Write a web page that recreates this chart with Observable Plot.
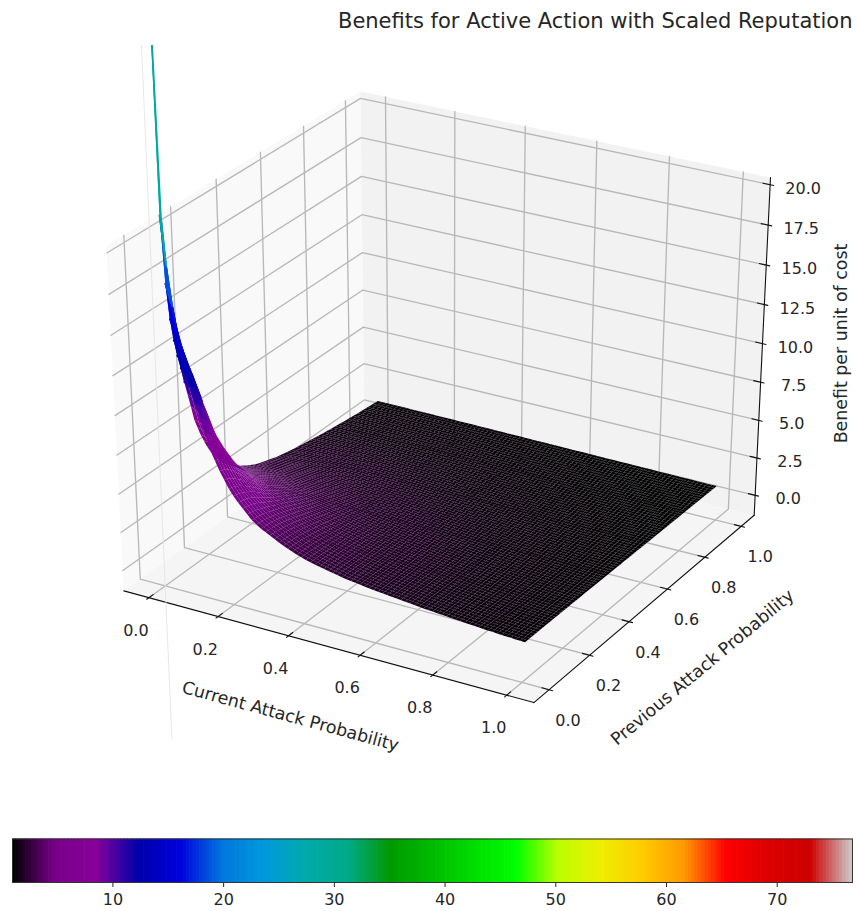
<!DOCTYPE html>
<html>
<head>
<meta charset="utf-8">
<script src="https://cdn.jsdelivr.net/npm/d3@7"></script>
<script src="https://cdn.jsdelivr.net/npm/@observablehq/plot@0.6"></script>
<style>
html,body{margin:0;padding:0;background:#fff}
svg{display:block;background:#fff}
</style>
</head>
<body>
<div id="chart"></div>
<script>
const chartTitle = "Benefits for Active Action with Scaled Reputation";
const xLabel = "Current Attack Probability";
const yLabel = "Previous Attack Probability";
const zLabel = "Benefit per unit of cost";
const probabilityTicks = [0, 0.2, 0.4, 0.6, 0.8, 1];
const benefitTicks = [0, 2.5, 5, 7.5, 10, 12.5, 15, 17.5, 20];
const colorbarTicks = [10, 20, 30, 40, 50, 60, 70];
const xLimits = [-0.05, 1.05];
const yLimits = [-0.05, 1.05];
const zLimits = [-0.915, 20];
const colorLimits = [0.93, 76.8];
const gridSteps = 80;
// benefit read from the surface, by distance from the (0,0) corner, in grid steps
const benefitByDistance = [90,70,23,18,15.5,14,12.9,12,11,10.1,9.2,8.2,7.6,7,6.5,6,5.6,5.25,4.95,4.65,4.35,4.15,3.95,3.8,3.65,3.5,3.36,3.22,3.1,2.98,2.87,2.78,2.68,2.6,2.53,2.47,2.41,2.35,2.29,2.23,2.17,2.12,2.08,2.04,2,1.96,1.92,1.89,1.85,1.82,1.79,1.76,1.73,1.7,1.67,1.64,1.61,1.58,1.55,1.52,1.5,1.47,1.45,1.43,1.4,1.38,1.36,1.33,1.31,1.29,1.27,1.25,1.23,1.22,1.2,1.18,1.16,1.15,1.13,1.12,1.1,1.09,1.08,1.07,1.07,1.06,1.05,1.05,1.04,1.03,1.03,1.02,1.02,1.01,1.01,1,1,0.99,0.99,0.98,0.98,0.98,0.97,0.97,0.96,0.96,0.96,0.95,0.95,0.95,0.94,0.94,0.93,0.93];
// the faint sliver standing on the (0,0) corner
const cornerSliver = [-11.8, 32.4];
// nipy_spectral
const cmapStops = [0,.05,.1,.15,.2,.25,.3,.35,.4,.45,.5,.55,.6,.65,.7,.75,.8,.85,.9,.95,1];
const cmapR = [0,.4667,.5333,0,0,0,0,0,0,0,0,0,0,.7333,.9333,1,1,1,.8667,.8,.8];
const cmapG = [0,0,0,0,0,.4667,.6,.6667,.6667,.6,.7333,.8667,1,1,.9333,.8,.6,0,0,0,.8];
const cmapB = [0,.5333,.6,.6667,.8667,.8667,.8667,.6667,.5333,0,0,0,0,0,0,0,0,0,0,0,.8];

const fontFamily = "'DejaVu Sans'";
const tickFont = 16, labelFont = 17.4;
const W = 858, H1 = 830, H2 = 81;
const axesTop = 45, axesBottom = 745;
// matplotlib mplot3d camera, elev 30 azim -60 dist 10, and its axes mapping
const camU = [0.866025, 0.5, 0], camV = [-0.25, 0.433013, 0.866025], camN = [0.433013, -0.75, 0.5];
const originX = 443.6, scaleX = 4544, originY = 385.7, scaleY = 3782;

const pad = l => (l[1] - l[0]) / 48;
const xBox = [xLimits[0] - pad(xLimits), xLimits[1] + pad(xLimits)];
const yBox = [yLimits[0] - pad(yLimits), yLimits[1] + pad(yLimits)];
const zBox = [zLimits[0] - pad(zLimits), zLimits[1] + pad(zLimits)];
const dot = (a, b) => a[0]*b[0] + a[1]*b[1] + a[2]*b[2];
function project(x, y, z) {
  const q = [
    (x - xLimits[0]) / (xLimits[1] - xLimits[0]) - 0.5,
    (y - yLimits[0]) / (yLimits[1] - yLimits[0]) - 0.5,
    (z - zLimits[0]) / (zLimits[1] - zLimits[0]) - 0.5
  ];
  const w = 10 - dot(camN, q);
  return {px: dot(camU, q) / w, py: dot(camV, q) / w, depth: w};
}
const path = (id, pts) => pts.map(p => ({id, ...project(...p)}));
const poly = (id, kind, pts) => path(id, pts).map(p => ({...p, kind}));

// panes
const panes = [
  ...poly("left", "#f9f9f9", [[xBox[0],yBox[0],zBox[0]],[xBox[0],yBox[1],zBox[0]],[xBox[0],yBox[1],zBox[1]],[xBox[0],yBox[0],zBox[1]]]),
  ...poly("back", "#f2f2f2", [[xBox[0],yBox[1],zBox[0]],[xBox[1],yBox[1],zBox[0]],[xBox[1],yBox[1],zBox[1]],[xBox[0],yBox[1],zBox[1]]]),
  ...poly("floor", "#f5f5f5", [[xBox[0],yBox[0],zBox[0]],[xBox[1],yBox[0],zBox[0]],[xBox[1],yBox[1],zBox[0]],[xBox[0],yBox[1],zBox[0]]])
];
// grid
const grid = [
  ...probabilityTicks.flatMap(t => path("x"+t, [[t,yBox[0],zBox[0]],[t,yBox[1],zBox[0]],[t,yBox[1],zBox[1]]])),
  ...probabilityTicks.flatMap(t => path("y"+t, [[xBox[1],t,zBox[0]],[xBox[0],t,zBox[0]],[xBox[0],t,zBox[1]]])),
  ...benefitTicks.flatMap(t => path("z"+t, [[xBox[0],yBox[0],t],[xBox[0],yBox[1],t],[xBox[1],yBox[1],t]]))
];
// axes and ticks
const axisLines = [
  ...path("ax", [[xBox[0],yBox[0],zBox[0]],[xBox[1],yBox[0],zBox[0]]]),
  ...path("ay", [[xBox[1],yBox[0],zBox[0]],[xBox[1],yBox[1],zBox[0]]]),
  ...path("az", [[xBox[1],yBox[1],zBox[0]],[xBox[1],yBox[1],zBox[1]]])
];
const dX = (xBox[1]-xBox[0])/12, dY = (yBox[1]-yBox[0])/12;
const tickLines = [
  ...probabilityTicks.flatMap(t => path("tx"+t, [[t,yBox[0]-0.1*dY,zBox[0]],[t,yBox[0]+0.2*dY,zBox[0]]])),
  ...probabilityTicks.flatMap(t => path("ty"+t, [[xBox[1]-0.2*dX,t,zBox[0]],[xBox[1]+0.1*dX,t,zBox[0]]])),
  ...benefitTicks.flatMap(t => path("tz"+t, [[xBox[1]-0.2*dX,yBox[1],t],[xBox[1]+0.1*dX,yBox[1],t]]))
];
const xTickText = probabilityTicks.map(t => ({label: t.toFixed(1), ...project(t, yBox[0], zBox[0])}));
const yTickText = probabilityTicks.map(t => ({label: t.toFixed(1), ...project(xBox[1], t, zBox[0])}));
const zTickText = benefitTicks.map(t => ({label: t.toFixed(1), ...project(xBox[1], yBox[1], t)}));

// surface cells, far to near; each grid node reads the table at its distance from the corner
const benefitAt = (i, j) => {
  const r = Math.hypot(i, j), k = Math.min(Math.floor(r), benefitByDistance.length - 2);
  return benefitByDistance[k] + (r - k) * (benefitByDistance[k + 1] - benefitByDistance[k]);
};
const cells = [];
for (let i = 1; i < gridSteps; ++i) {
  for (let j = 1; j < gridSteps; ++j) {
    const corners = [[i,j],[i+1,j],[i+1,j+1],[i,j+1]];
    const zs = corners.map(([a,b]) => benefitAt(a,b));
    const pts = corners.map(([a,b],n) => project(a/gridSteps, b/gridSteps, zs[n]));
    cells.push({pts, value: d3.mean(zs), depth: d3.mean(pts, p => p.depth)});
  }
}
cells.sort((a,b) => b.depth - a.depth);
const surface = cells.flatMap((c, id) => c.pts.map(p => ({id, value: c.value, px: p.px, py: p.py})));
const spikeCells = surface.filter(d => d.value >= 11);

const toHex = i => d3.rgb(cmapR[i]*255, cmapG[i]*255, cmapB[i]*255).formatHex();
const colorScale = {
  type: "linear",
  domain: cmapStops.map(s => colorLimits[0] + s * (colorLimits[1]-colorLimits[0])),
  range: cmapStops.map((s,i) => toHex(i)),
  interpolate: "rgb"
};

const main = Plot.plot({
  width: W, height: H1,
  marginTop: axesTop, marginBottom: H1 - axesBottom, marginLeft: 0, marginRight: 0,
  style: {fontFamily, color: "#262626", background: "#fff", overflow: "visible"},
  x: {domain: [-originX/scaleX, (W-originX)/scaleX], axis: null},
  y: {domain: [(originY-axesBottom)/scaleY, (originY-axesTop)/scaleY], axis: null},
  color: colorScale,
  marks: [
    Plot.line(panes, {x:"px", y:"py", z:"id", fill:d=>d.kind, stroke:"none"}),
    Plot.line(grid, {x:"px", y:"py", z:"id", stroke:"#b8b8b8", strokeWidth:1.35}),
    Plot.line(axisLines, {x:"px", y:"py", z:"id", stroke:"#111", strokeWidth:1.1}),
    Plot.line(tickLines, {x:"px", y:"py", z:"id", stroke:"#111", strokeWidth:1.1}),
    Plot.line(cornerSliver.map(z => project(0,0,z)), {x:"px", y:"py", stroke:"#e4e4e4", strokeWidth:0.9, clip:"frame"}),
    Plot.line(surface, {x:"px", y:"py", z:"id", fill:"value", stroke:"none", clip:"frame"}),
    Plot.line(spikeCells, {x:"px", y:"py", z:"id", fill:"value", stroke:"value", strokeWidth:1.6, clip:"frame"}),
    Plot.text(xTickText, {x:"px", y:"py", text:"label", dx:-13, dy:33, fill:"#262626", fontSize:tickFont}),
    Plot.text(yTickText, {x:"px", y:"py", text:"label", dx:19, dy:31, fill:"#262626", fontSize:tickFont}),
    Plot.text(zTickText, {x:"px", y:"py", text:"label", dx:33, dy:4, fill:"#262626", fontSize:tickFont}),
    Plot.text([xLabel], {x:[(290-originX)/scaleX], y:[(originY-716)/scaleY], text:d=>d, rotate:15.2, fill:"#262626", fontSize:labelFont}),
    Plot.text([yLabel], {x:[(702-originX)/scaleX], y:[(originY-667)/scaleY], text:d=>d, rotate:-39.8, fill:"#262626", fontSize:labelFont}),
    Plot.text([zLabel], {x:[(841-originX)/scaleX], y:[(originY-343)/scaleY], text:d=>d, rotate:-90, fill:"#262626", fontSize:labelFont}),
    Plot.text([chartTitle], {frameAnchor:"top-right", text:d=>d, dx:-6, dy:-32, fontSize:21, fill:"#262626", textAnchor:"end"})
  ]
});

const levels = d3.range(256);
const levelStart = l => colorLimits[0] + l/256 * (colorLimits[1]-colorLimits[0]);
const bar = Plot.plot({
  width: W, height: H2,
  marginTop: 8.5, marginBottom: 29, marginLeft: 12, marginRight: 6,
  style: {fontFamily, fontSize: "16px", color: "#262626", background: "#fff"},
  x: {domain: colorLimits, ticks: colorbarTicks, tickSize: 5, tickPadding: 6, tickFormat: d3.format("d"), label: null},
  y: {domain: [0,1], axis: null},
  color: colorScale,
  marks: [
    Plot.rect(levels, {x1:levelStart, x2:l => levelStart(l+1.2), y1:0, y2:1, fill:l => levelStart(l+0.5), inset:0}),
    Plot.frame({stroke:"#333", strokeWidth:1})
  ]
});

const root = document.getElementById("chart");
root.append(main, bar);
</script>
</body>
</html>
